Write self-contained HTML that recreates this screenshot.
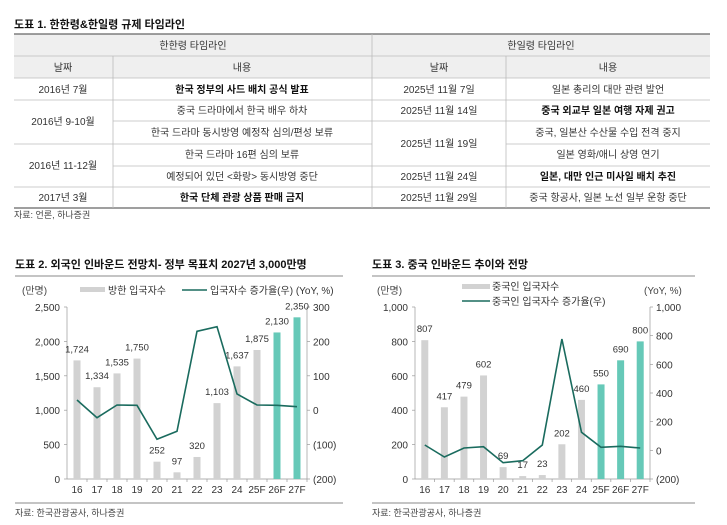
<!DOCTYPE html>
<html><head><meta charset="utf-8"><style>
body{margin:0;background:#fff;width:727px;height:525px;overflow:hidden}
svg{display:block;font-family:"Liberation Sans","Noto Sans CJK KR",sans-serif}
</style></head><body>
<svg id="s" width="727" height="525" viewBox="0 0 727 525" xmlns="http://www.w3.org/2000/svg">
<text x="14" y="28" font-size="11" font-weight="bold" fill="#111">도표 1. 한한령&amp;한일령 규제 타임라인</text>
<rect x="14" y="34" width="696" height="44" fill="#efefef"/>
<g stroke="#888" stroke-width="1">
<line x1="14" y1="34" x2="710" y2="34" stroke="#666" stroke-width="1.3"/>
<line x1="14" y1="208" x2="710" y2="208" stroke="#666" stroke-width="1.3"/>
</g>
<g stroke="#bbb" stroke-width="0.8">
<line x1="14" y1="56" x2="710" y2="56"/>
<line x1="14" y1="78" x2="710" y2="78"/>
<line x1="14" y1="100" x2="710" y2="100"/>
<line x1="113" y1="121" x2="710" y2="121"/>
<line x1="14" y1="144" x2="372" y2="144"/>
<line x1="506" y1="144" x2="710" y2="144"/>
<line x1="113" y1="166" x2="710" y2="166"/>
<line x1="14" y1="187" x2="710" y2="187"/>
<line x1="372" y1="34" x2="372" y2="208"/>
<line x1="113" y1="56" x2="113" y2="208"/>
<line x1="506" y1="56" x2="506" y2="208"/>
</g>
<g font-size="10" fill="#333" text-anchor="middle">
<text x="193" y="49">한한령 타임라인</text><text x="541" y="49">한일령 타임라인</text>
<text x="63" y="71">날짜</text><text x="242" y="71">내용</text><text x="439" y="71">날짜</text><text x="608" y="71">내용</text>
<text x="63" y="93">2016년 7월</text><text x="242" y="93" font-weight="bold" fill="#111">한국 정부의 사드 배치 공식 발표</text>
<text x="439" y="93">2025년 11월 7일</text><text x="608" y="93">일본 총리의 대만 관련 발언</text>
<text x="63" y="125">2016년 9-10월</text>
<text x="242" y="114">중국 드라마에서 한국 배우 하차</text><text x="439" y="114">2025년 11월 14일</text><text x="608" y="114" font-weight="bold" fill="#111">중국 외교부 일본 여행 자제 권고</text>
<text x="242" y="136">한국 드라마 동시방영 예정작 심의/편성 보류</text><text x="439" y="147">2025년 11월 19일</text><text x="608" y="136">중국, 일본산 수산물 수입 전격 중지</text>
<text x="63" y="169">2016년 11-12월</text>
<text x="242" y="158">한국 드라마 16편 심의 보류</text><text x="608" y="158">일본 영화/애니 상영 연기</text>
<text x="242" y="180">예정되어 있던 &lt;화랑&gt; 동시방영 중단</text><text x="439" y="180">2025년 11월 24일</text><text x="608" y="180" font-weight="bold" fill="#111">일본, 대만 인근 미사일 배치 추진</text>
<text x="63" y="201">2017년 3월</text><text x="242" y="201" font-weight="bold" fill="#111">한국 단체 관광 상품 판매 금지</text>
<text x="439" y="201">2025년 11월 29일</text><text x="608" y="201">중국 항공사, 일본 노선 일부 운항 중단</text>
</g>
<text x="14" y="218" font-size="9" fill="#444">자료: 언론, 하나증권</text>
<g id="c"></g>
</svg>
<script>
const g=document.getElementById('c');let h='';
const cats=['16','17','18','19','20','21','22','23','24','25F','26F','27F'];
function chart(o){
 h+=`<text x="${o.tx}" y="268" font-size="11" font-weight="bold" fill="#111">${o.title}</text>`;
 h+=`<line x1="${o.tx}" y1="276" x2="${o.tx2}" y2="276" stroke="#888" stroke-width="1"/>`;
 h+=`<line x1="${o.x0}" y1="307" x2="${o.x0}" y2="479" stroke="#999" stroke-width="0.7"/>`;
 h+=`<line x1="${o.x1}" y1="307" x2="${o.x1}" y2="479" stroke="#999" stroke-width="0.7"/>`;
 h+=`<line x1="${o.x0}" y1="479" x2="${o.x1}" y2="479" stroke="#999" stroke-width="0.7"/>`;
 o.lt.forEach((t,i)=>{const y=479-172*i/(o.lt.length-1);h+=`<line x1="${o.x0-3}" y1="${y}" x2="${o.x0}" y2="${y}" stroke="#999" stroke-width="0.7"/><text x="${o.x0-7}" y="${y+4}" font-size="10" fill="#333" text-anchor="end">${t}</text>`;});
 o.rt.forEach((t,i)=>{const y=479-172*i/(o.rt.length-1);h+=`<line x1="${o.x1}" y1="${y}" x2="${o.x1+3}" y2="${y}" stroke="#999" stroke-width="0.7"/><text x="${o.x1+6}" y="${y+4}" font-size="10" fill="#333">${t}</text>`;});
 const w=(o.x1-o.x0)/12;let pts=[];
 cats.forEach((c,i)=>{const cx=o.x0+w*(i+.5);h+=`<line x1="${o.x0+w*(i+1)}" y1="479" x2="${o.x0+w*(i+1)}" y2="482" stroke="#999" stroke-width="0.7"/>`;
  const v=o.v[i],bh=v*o.sc,col=i>=o.tf?'#66c9b8':'#d2d2d2';
  h+=`<rect x="${cx-3.5}" y="${479-bh}" width="7" height="${bh}" fill="${col}"/>`;
  h+=`<text x="${cx}" y="${479-bh-8}" font-size="9.5" fill="#333" text-anchor="middle">${v.toLocaleString('en-US')}</text>`;
  h+=`<text x="${cx}" y="493" font-size="10" fill="#333" text-anchor="middle">${c}</text>`;
  pts.push(cx.toFixed(1)+','+(250+o.ly[i]/3).toFixed(1));});
 h+=`<polyline points="${pts.join(' ')}" fill="none" stroke="#1a6b5e" stroke-width="1.6"/>`;
 h+=`<line x1="${o.tx}" y1="503" x2="${o.tx2}" y2="503" stroke="#888" stroke-width="1"/>`;
 h+=`<text x="${o.tx}" y="516" font-size="9" fill="#444">자료: 한국관광공사, 하나증권</text>`;
}
chart({tx:15,tx2:343,title:'도표 2. 외국인 인바운드 전망치- 정부 목표치 2027년 3,000만명',x0:67,x1:307,
 lt:['0','500','1,000','1,500','2,000','2,500'],rt:['(200)','(100)','0','100','200','300'],
 v:[1724,1334,1535,1750,252,97,320,1103,1637,1875,2130,2350],sc:172/2500,tf:10,
 ly:[450,503,465,466,568,544,244,230,432,465,466,470]});
chart({tx:372,tx2:695,title:'도표 3. 중국 인바운드 추이와 전망',x0:415,x1:650,
 lt:['0','200','400','600','800','1,000'],rt:['(200)','0','200','400','600','800','1,000'],
 v:[807,417,479,602,69,17,23,202,460,550,690,800],sc:0.172,tf:9,
 ly:[585,621,594,590,638,632,585,267,547,592,589,594]});
h+=`<text x="22" y="294" font-size="10" fill="#444">(만명)</text>`;
h+=`<rect x="80" y="287" width="25" height="5" fill="#d2d2d2"/><text x="108" y="294" font-size="10" fill="#333">방한 입국자수</text>`;
h+=`<line x1="182" y1="290" x2="207" y2="290" stroke="#1a6b5e" stroke-width="1.6"/><text x="210" y="294" font-size="10" fill="#333">입국자수 증가율(우) (YoY, %)</text>`;
h+=`<text x="377" y="294" font-size="10" fill="#444">(만명)</text><text x="644" y="294" font-size="10" fill="#444">(YoY, %)</text>`;
h+=`<rect x="462" y="284" width="28" height="5" fill="#d2d2d2"/><text x="492" y="290" font-size="10" fill="#333">중국인 입국자수</text>`;
h+=`<line x1="462" y1="301" x2="490" y2="301" stroke="#1a6b5e" stroke-width="1.6"/><text x="492" y="305" font-size="10" fill="#333">중국인 입국자수 증가율(우)</text>`;
g.innerHTML=h;
</script>
</body></html>
